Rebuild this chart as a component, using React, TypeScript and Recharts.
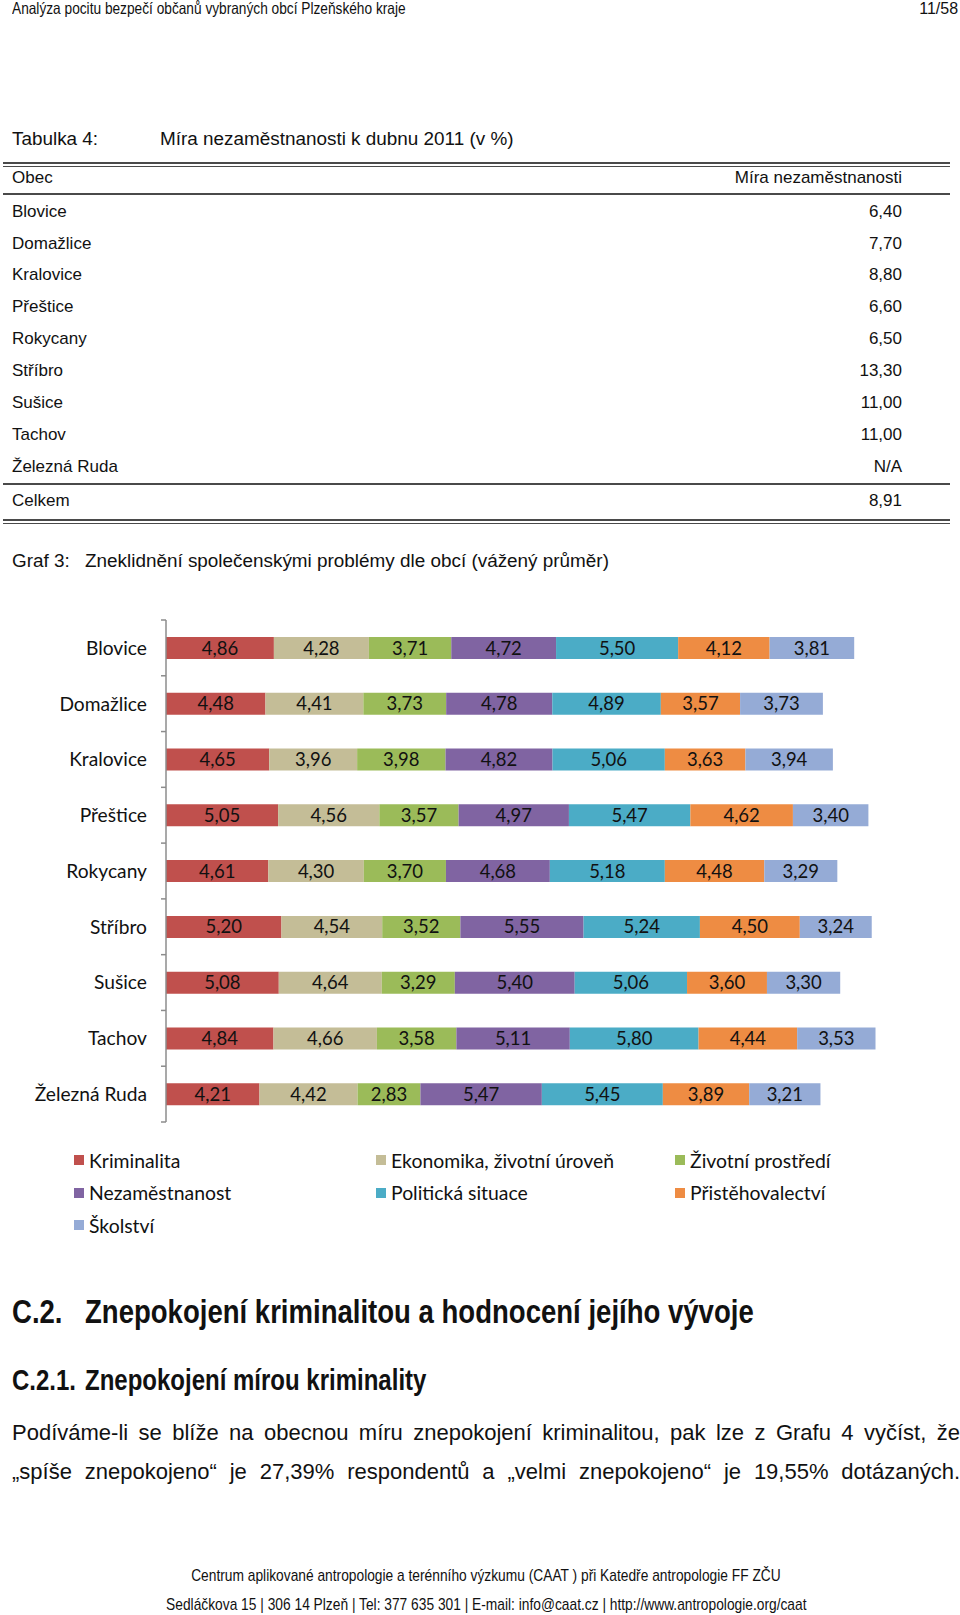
import React from 'react';
import { BarChart, Bar, XAxis, YAxis, LabelList, Legend } from 'recharts';

// ---------- data ----------
const towns = ['Blovice', 'Domažlice', 'Kralovice', 'Přeštice', 'Rokycany', 'Stříbro', 'Sušice', 'Tachov', 'Železná Ruda'];
const unemploymentRates = ['6,40', '7,70', '8,80', '6,60', '6,50', '13,30', '11,00', '11,00', 'N/A'];
const unemploymentTotal = '8,91';

const seriesNames = [
  'Kriminalita',
  'Ekonomika, životní úroveň',
  'Životní prostředí',
  'Nezaměstnanost',
  'Politická situace',
  'Přistěhovalectví',
  'Školství',
];
const seriesColors = ['#C0504D', '#C4BD97', '#9BBB59', '#8064A2', '#4BACC6', '#EE8C43', '#95ABD6'];

const kriminalita = [4.86, 4.48, 4.65, 5.05, 4.61, 5.2, 5.08, 4.84, 4.21];
const ekonomika = [4.28, 4.41, 3.96, 4.56, 4.3, 4.54, 4.64, 4.66, 4.42];
const prostredi = [3.71, 3.73, 3.98, 3.57, 3.7, 3.52, 3.29, 3.58, 2.83];
const nezamestnanost = [4.72, 4.78, 4.82, 4.97, 4.68, 5.55, 5.4, 5.11, 5.47];
const politicka = [5.5, 4.89, 5.06, 5.47, 5.18, 5.24, 5.06, 5.8, 5.45];
const pristehovalectvi = [4.12, 3.57, 3.63, 4.62, 4.48, 4.5, 3.6, 4.44, 3.89];
const skolstvi = [3.81, 3.73, 3.94, 3.4, 3.29, 3.24, 3.3, 3.53, 3.21];
const seriesValues = [kriminalita, ekonomika, prostredi, nezamestnanost, politicka, pristehovalectvi, skolstvi];

const xDomain = [0, 35];

const chartData = towns.map((t, i) => {
  const row: any = { name: t };
  seriesNames.forEach((_, j) => {
    row['s' + j] = seriesValues[j][i];
  });
  return row;
});

// ---------- layout ----------
const CHART_W = 960;
const CHART_H = 642;
const MARGIN = { top: 20, right: 17, bottom: 20, left: 0 };
const LEGEND_H = 100;
const Y_W = 166;
const TICK_GAP = 19;
const PLOT_H = CHART_H - MARGIN.top - MARGIN.bottom - LEGEND_H;
const BAND = PLOT_H / towns.length;
const AXIS_COLOR = '#8c8c8c';
const CHART_FONT = 'Lato, "Open Sans", sans-serif';

const fmt = (v: any) => Number(v).toFixed(2).replace('.', ',');

const TownTick = (props: any) => {
  const { x, y, payload } = props;
  const ax = x + TICK_GAP;
  const isLast = payload.value === towns[towns.length - 1];
  return (
    <g>
      <text x={x} y={y} dy="0.36em" textAnchor="end" fontFamily={CHART_FONT} fontSize={19.2} fill="#111">
        {payload.value}
      </text>
      <line x1={ax - 5} x2={ax} y1={y - BAND / 2} y2={y - BAND / 2} stroke={AXIS_COLOR} strokeWidth={1.5} />
      {isLast && <line x1={ax - 5} x2={ax} y1={y + BAND / 2} y2={y + BAND / 2} stroke={AXIS_COLOR} strokeWidth={1.5} />}
    </g>
  );
};

const LegendContent = (props: any) => {
  const payload = [...(props.payload || [])].sort(
    (a: any, b: any) => seriesNames.indexOf(a.value) - seriesNames.indexOf(b.value)
  );
  return (
    <div
      style={{
        display: 'grid',
        gridTemplateColumns: '302px 299px 260px',
        paddingLeft: 74,
        paddingTop: 22,
        fontFamily: CHART_FONT,
        fontSize: 19.4,
        color: '#111',
      }}
    >
      {payload.map((p: any) => (
        <div key={p.value} style={{ height: 32.5, display: 'flex', alignItems: 'center', whiteSpace: 'nowrap' }}>
          <span style={{ width: 10, height: 10, background: p.color, marginRight: 5, display: 'inline-block' }} />
          {p.value}
        </div>
      ))}
    </div>
  );
};

// ---------- text helpers ----------
const BASE_FONT = '"Liberation Sans", Arial, Helvetica, sans-serif';

const Line = ({ top, h = 1.5 }: { top: number; h?: number }) => (
  <div style={{ position: 'absolute', left: 3, width: 947, top, height: h, background: '#4a4a4a' }} />
);

const Narrow = ({ children, k, origin = 'left center' }: any) => (
  <span style={{ display: 'inline-block', transform: `scaleX(${k})`, transformOrigin: origin, whiteSpace: 'nowrap' }}>
    {children}
  </span>
);

const Row = ({ cy, label, value, size = 17 }: any) => (
  <>
    <div style={{ position: 'absolute', left: 12, top: cy - 12, lineHeight: '24px', fontSize: size }}>{label}</div>
    <div style={{ position: 'absolute', right: 58, top: cy - 12, lineHeight: '24px', fontSize: size, textAlign: 'right' }}>
      {value}
    </div>
  </>
);

const rowCenters = [212, 244, 275, 307, 339, 371, 403, 435, 467];

export default function App() {
  return (
    <div
      style={{
        position: 'absolute',
        left: 0,
        top: 0,
        width: 960,
        height: 1615,
        background: '#fff',
        overflow: 'hidden',
        fontFamily: BASE_FONT,
        color: '#111',
      }}
    >
      {/* header */}
      <div style={{ position: 'absolute', left: 12, top: -2, lineHeight: '20px', fontSize: 16.5 }}>
        <Narrow k={0.83}>Analýza pocitu bezpečí občanů vybraných obcí Plzeňského kraje</Narrow>
      </div>
      <div style={{ position: 'absolute', right: 2, top: -2, lineHeight: '20px', fontSize: 16.5, textAlign: 'right' }}>
        <Narrow k={0.97} origin="right center">11/58</Narrow>
      </div>

      {/* table title */}
      <div style={{ position: 'absolute', left: 12, top: 127, lineHeight: '24px', fontSize: 18.9 }}>Tabulka 4:</div>
      <div style={{ position: 'absolute', left: 160, top: 127, lineHeight: '24px', fontSize: 18.9 }}>
        Míra nezaměstnanosti k dubnu 2011 (v %)
      </div>

      <Line top={162} />
      <Line top={165.5} />
      <Row cy={178} label="Obec" value="Míra nezaměstnanosti" />
      <Line top={193} h={2} />
      {towns.map((t, i) => (
        <Row key={t} cy={rowCenters[i]} label={t} value={unemploymentRates[i]} />
      ))}
      <Line top={483} h={2} />
      <Row cy={501} label="Celkem" value={unemploymentTotal} />
      <Line top={519} />
      <Line top={522.5} />

      {/* graph caption */}
      <div style={{ position: 'absolute', left: 12, top: 549, lineHeight: '24px', fontSize: 18.9 }}>Graf 3:</div>
      <div style={{ position: 'absolute', left: 85, top: 549, lineHeight: '24px', fontSize: 18.9 }}>
        Zneklidnění společenskými problémy dle obcí (vážený průměr)
      </div>

      {/* chart */}
      <div style={{ position: 'absolute', left: 0, top: 600, width: CHART_W, height: CHART_H }}>
        <BarChart width={CHART_W} height={CHART_H} data={chartData} layout="vertical" margin={MARGIN}>
          <XAxis type="number" domain={xDomain} hide />
          <YAxis
            type="category"
            dataKey="name"
            width={Y_W}
            tickSize={0}
            tickMargin={TICK_GAP}
            tickLine={false}
            axisLine={{ stroke: AXIS_COLOR, strokeWidth: 1.5 }}
            tick={<TownTick />}
            interval={0}
          />
          <Legend
            verticalAlign="bottom"
            align="left"
            height={LEGEND_H}
            width={CHART_W}
            wrapperStyle={{ left: 0, top: CHART_H - MARGIN.bottom - LEGEND_H, bottom: 'auto' }}
            content={<LegendContent />}
          />
          {seriesNames.map((s, j) => (
            <Bar
              key={s}
              dataKey={'s' + j}
              name={s}
              stackId="a"
              fill={seriesColors[j]}
              barSize={22}
              isAnimationActive={false}
            >
              <LabelList
                dataKey={'s' + j}
                position="center"
                formatter={fmt}
                fill="#111"
                fontSize={18.5}
                fontFamily={CHART_FONT}
              />
            </Bar>
          ))}
        </BarChart>
      </div>

      {/* headings */}
      <div style={{ position: 'absolute', left: 12, top: 1291, lineHeight: '40px', fontSize: 34, fontWeight: 'bold' }}>
        <Narrow k={0.81}>C.2.</Narrow>
      </div>
      <div style={{ position: 'absolute', left: 85, top: 1291, lineHeight: '40px', fontSize: 34, fontWeight: 'bold' }}>
        <Narrow k={0.81}>Znepokojení kriminalitou a hodnocení jejího vývoje</Narrow>
      </div>
      <div style={{ position: 'absolute', left: 12, top: 1362, lineHeight: '36px', fontSize: 30, fontWeight: 'bold' }}>
        <Narrow k={0.8}>C.2.1.</Narrow>
      </div>
      <div style={{ position: 'absolute', left: 85, top: 1362, lineHeight: '36px', fontSize: 30, fontWeight: 'bold' }}>
        <Narrow k={0.8}>Znepokojení mírou kriminality</Narrow>
      </div>

      {/* paragraph */}
      <div
        style={{
          position: 'absolute',
          left: 12,
          width: 948,
          top: 1418,
          lineHeight: '30px',
          fontSize: 22,
          textAlign: 'justify',
          textAlignLast: 'justify',
        }}
      >
        Podíváme-li se blíže na obecnou míru znepokojení kriminalitou, pak lze z Grafu 4 vyčíst, že
      </div>
      <div
        style={{
          position: 'absolute',
          left: 12,
          width: 948,
          top: 1457,
          lineHeight: '30px',
          fontSize: 22,
          textAlign: 'justify',
          textAlignLast: 'justify',
        }}
      >
        „spíše znepokojeno“ je 27,39% respondentů a „velmi znepokojeno“ je 19,55% dotázaných.
      </div>

      {/* footer */}
      <div style={{ position: 'absolute', left: 12, width: 948, top: 1565, lineHeight: '22px', fontSize: 17, textAlign: 'center' }}>
        <Narrow k={0.81} origin="center center">
          Centrum aplikované antropologie a terénního výzkumu (CAAT ) při Katedře antropologie FF ZČU
        </Narrow>
      </div>
      <div style={{ position: 'absolute', left: 12, width: 948, top: 1594, lineHeight: '22px', fontSize: 17, textAlign: 'center' }}>
        <Narrow k={0.81} origin="center center">
          Sedláčkova 15 | 306 14 Plzeň | Tel: 377 635 301 | E-mail: info@caat.cz | http://www.antropologie.org/caat
        </Narrow>
      </div>
    </div>
  );
}
